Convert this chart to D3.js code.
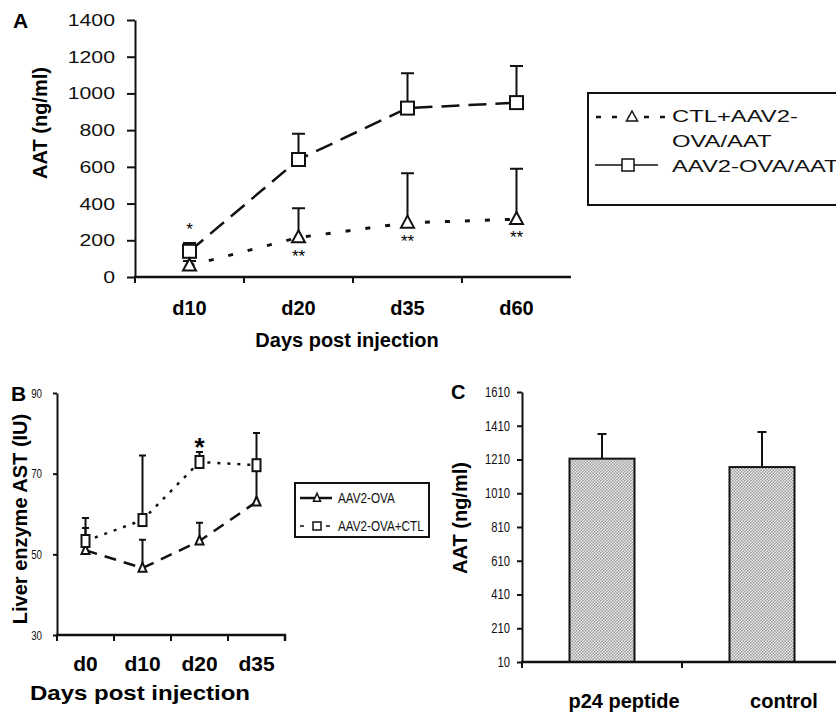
<!DOCTYPE html>
<html>
  <head>
    <script src="https://d3js.org/d3.v7.min.js"></script>
    <style>
      body { margin: 0; background-color: white; }
    </style>
  </head>
  <body>
    <svg id="canvas" width="836" height="713"></svg>
    <script>
      // panel A: AAT over time
      const daysA = ['d10', 'd20', 'd35', 'd60']
      const aavA = [140, 640, 920, 950]
      const aavAErr = [45, 140, 190, 200]
      const ctlA = [62, 215, 295, 315]
      const ctlAErr = [25, 160, 270, 275]
      const starsA = ['*', '**', '**', '**']
      const ticksA = [0, 200, 400, 600, 800, 1000, 1200, 1400]

      // panel B: liver enzyme AST
      const daysB = ['d0', 'd10', 'd20', 'd35']
      const ovaB = [51, 46.6, 53.3, 63]
      const ovaBErr = [5.5, 7, 4.5, 9]
      const ctlB = [53.3, 58.5, 72.9, 72.1]
      const ctlBErr = [5.7, 16, 2.5, 8]
      const starsB = ['', '', '*', '']
      const ticksB = [30, 50, 70, 90]

      // panel C: AAT by group
      const groupsC = ['p24 peptide', 'control']
      const aatC = [1215, 1165]
      const aatCErr = [146, 208]
      const ticksC = [10, 210, 410, 610, 810, 1010, 1210, 1410, 1610]

      const sans = '"Liberation Sans", Arial, sans-serif'

      const svg = d3.select('#canvas')

      // scanned figure has squashed/stretched text, fake it with textLength
      const stretch = (sel, f) => {
        sel.each(function () {
          const l = this.getComputedTextLength()
          d3.select(this).attr('textLength', l * f).attr('lengthAdjust', 'spacingAndGlyphs')
        })
      }

      const triPath = (w, h) => `M0,${-h * 0.6}L${w / 2},${h * 0.4}L${-w / 2},${h * 0.4}Z`

      const errBars = (g, cats, cx, y, vals, errs, cap) => {
        g.selectAll(null).data(vals).enter().append('path')
          .attr('d', (d, i) => {
            const x = cx(cats[i]), y0 = y(d), y1 = y(d + errs[i])
            return `M${x},${y0}V${y1}M${x - cap / 2},${y1}H${x + cap / 2}`
          })
          .attr('fill', 'none').attr('stroke', '#111').attr('stroke-width', 2)
      }

      // ---------- panel A ----------
      const xA = d3.scaleBand().domain(daysA).range([135, 571])
      const yA = d3.scaleLinear().domain([0, 1400]).range([277, 20])
      const cxA = d => xA(d) + xA.bandwidth() / 2
      const a = svg.append('g')

      const yAxisA = a.append('g').attr('transform', 'translate(135,0)')
        .call(d3.axisLeft(yA).tickValues(ticksA).tickFormat(d3.format('d'))
          .tickSize(8).tickPadding(12).tickSizeOuter(0))
      yAxisA.selectAll('path, line').attr('stroke', '#111').attr('stroke-width', 2)
      yAxisA.selectAll('text').attr('font-family', sans).attr('font-size', 17).attr('fill', '#111')
        .call(stretch, 1.25)

      a.append('line').attr('x1', 134).attr('x2', 571).attr('y1', yA(0)).attr('y2', yA(0))
        .attr('stroke', '#111').attr('stroke-width', 2.5)
      a.selectAll('line.bt').data(daysA).enter().append('line')
        .attr('x1', d => xA(d)).attr('x2', d => xA(d))
        .attr('y1', yA(0)).attr('y2', yA(0) + 6)
        .attr('stroke', '#111').attr('stroke-width', 2)
      a.selectAll('text.xl').data(daysA).enter().append('text')
        .attr('x', cxA).attr('y', 315).attr('text-anchor', 'middle')
        .attr('font-family', sans).attr('font-weight', 'bold').attr('font-size', 20)
        .text(d => d)
      a.append('text').attr('x', 347).attr('y', 347).attr('text-anchor', 'middle')
        .attr('font-family', sans).attr('font-weight', 'bold').attr('font-size', 20)
        .text('Days post injection')
      a.append('text').attr('transform', 'translate(47,123) rotate(-90)').attr('text-anchor', 'middle')
        .attr('font-family', sans).attr('font-weight', 'bold').attr('font-size', 20)
        .text('AAT (ng/ml)')
      a.append('text').attr('x', 13).attr('y', 28)
        .attr('font-family', sans).attr('font-weight', 'bold').attr('font-size', 21)
        .text('A')

      const lineA = vals => d3.line().x((d, i) => cxA(daysA[i])).y(d => yA(d))(vals)
      a.append('path').attr('d', lineA(aavA)).attr('fill', 'none')
        .attr('stroke', '#111').attr('stroke-width', 2.5).attr('stroke-dasharray', '18,9')
      a.append('path').attr('d', lineA(ctlA)).attr('fill', 'none')
        .attr('stroke', '#111').attr('stroke-width', 3).attr('stroke-dasharray', '5,15')

      errBars(a, daysA, cxA, yA, ctlA, ctlAErr, 13)
      errBars(a, daysA, cxA, yA, aavA, aavAErr, 13)

      a.selectAll('rect.sq').data(aavA).enter().append('rect')
        .attr('x', (d, i) => cxA(daysA[i]) - 6.5).attr('y', d => yA(d) - 6.5)
        .attr('width', 13).attr('height', 13)
        .attr('fill', 'white').attr('stroke', '#111').attr('stroke-width', 2)
      a.selectAll('path.tri').data(ctlA).enter().append('path')
        .attr('d', triPath(13, 12))
        .attr('transform', (d, i) => `translate(${cxA(daysA[i])},${yA(d)})`)
        .attr('fill', 'white').attr('stroke', '#111').attr('stroke-width', 2)

      a.selectAll('text.st').data(starsA).enter().append('text')
        .attr('x', (d, i) => cxA(daysA[i]))
        .attr('y', (d, i) => d === '*' ? yA(aavA[i] + aavAErr[i]) - 8 : yA(ctlA[i]) + 24)
        .attr('text-anchor', 'middle').attr('font-family', sans).attr('font-size', 17)
        .text(d => d)

      // legend A
      const lgA = a.append('g')
      lgA.append('rect').attr('x', 588).attr('y', 93).attr('width', 260).attr('height', 112)
        .attr('fill', 'white').attr('stroke', '#111').attr('stroke-width', 2)
      lgA.append('line').attr('x1', 596).attr('x2', 666).attr('y1', 117).attr('y2', 117)
        .attr('stroke', '#111').attr('stroke-width', 2.5).attr('stroke-dasharray', '5,11')
      lgA.append('path').attr('d', triPath(11, 10)).attr('transform', 'translate(632,117)')
        .attr('fill', 'white').attr('stroke', '#111').attr('stroke-width', 1.5)
      lgA.append('line').attr('x1', 595).attr('x2', 658).attr('y1', 165).attr('y2', 165)
        .attr('stroke', '#111').attr('stroke-width', 1.5)
      lgA.append('rect').attr('x', 622).attr('y', 159).attr('width', 12).attr('height', 12)
        .attr('fill', 'white').attr('stroke', '#111').attr('stroke-width', 1.5)
      lgA.selectAll('text').data([['CTL+AAV2-', 122], ['OVA/AAT', 147], ['AAV2-OVA/AAT', 172]])
        .enter().append('text')
        .attr('x', 672).attr('y', d => d[1])
        .attr('font-family', sans).attr('font-size', 17).attr('fill', '#111')
        .text(d => d[0])
        .call(stretch, 1.4)

      // ---------- panel B ----------
      const xB = d3.scaleBand().domain(daysB).range([57, 285])
      const yB = d3.scaleLinear().domain([30, 90]).range([635, 393])
      const cxB = d => xB(d) + xB.bandwidth() / 2
      const b = svg.append('g')

      const yAxisB = b.append('g').attr('transform', 'translate(57,0)')
        .call(d3.axisLeft(yB).tickValues(ticksB).tickSize(4).tickPadding(11).tickSizeOuter(0))
      yAxisB.selectAll('path, line').attr('stroke', '#111').attr('stroke-width', 2)
      yAxisB.selectAll('text').attr('font-family', sans).attr('font-size', 13).attr('fill', '#111')
        .call(stretch, 0.75)

      b.append('path').attr('d', `M56,${yB(30)}H285V${yB(30) + 6}`).attr('fill', 'none')
        .attr('stroke', '#111').attr('stroke-width', 2.5)
      b.selectAll('line.bt').data(daysB).enter().append('line')
        .attr('x1', d => xB(d)).attr('x2', d => xB(d))
        .attr('y1', yB(30)).attr('y2', yB(30) + 6)
        .attr('stroke', '#111').attr('stroke-width', 2)
      b.selectAll('text.xl').data(daysB).enter().append('text')
        .attr('x', cxB).attr('y', 671).attr('text-anchor', 'middle')
        .attr('font-family', sans).attr('font-weight', 'bold').attr('font-size', 21)
        .text(d => d)
      b.append('text').attr('x', 140).attr('y', 700).attr('text-anchor', 'middle')
        .attr('font-family', sans).attr('font-weight', 'bold').attr('font-size', 20)
        .text('Days post injection')
        .call(stretch, 1.2)
      b.append('text').attr('transform', 'translate(27,519) rotate(-90)').attr('text-anchor', 'middle')
        .attr('font-family', sans).attr('font-weight', 'bold').attr('font-size', 20)
        .text('Liver enzyme AST (IU)')
      b.append('text').attr('x', 11).attr('y', 401)
        .attr('font-family', sans).attr('font-weight', 'bold').attr('font-size', 21)
        .text('B')

      const lineB = vals => d3.line().x((d, i) => cxB(daysB[i])).y(d => yB(d))(vals)
      b.append('path').attr('d', lineB(ovaB)).attr('fill', 'none')
        .attr('stroke', '#111').attr('stroke-width', 2.5).attr('stroke-dasharray', '12,8')
      b.append('path').attr('d', lineB(ctlB)).attr('fill', 'none')
        .attr('stroke', '#111').attr('stroke-width', 2.5).attr('stroke-dasharray', '3,7')

      errBars(b, daysB, cxB, yB, ovaB, ovaBErr, 7)
      errBars(b, daysB, cxB, yB, ctlB, ctlBErr, 7)

      b.selectAll('path.tri').data(ovaB).enter().append('path')
        .attr('d', triPath(8, 9))
        .attr('transform', (d, i) => `translate(${cxB(daysB[i])},${yB(d)})`)
        .attr('fill', 'white').attr('stroke', '#111').attr('stroke-width', 2)
      b.selectAll('rect.sq').data(ctlB).enter().append('rect')
        .attr('x', (d, i) => cxB(daysB[i]) - 4).attr('y', d => yB(d) - 6)
        .attr('width', 8).attr('height', 12)
        .attr('fill', 'white').attr('stroke', '#111').attr('stroke-width', 2)
      b.selectAll('text.st').data(starsB).enter().append('text')
        .attr('x', (d, i) => cxB(daysB[i]))
        .attr('y', (d, i) => yB(ctlB[i] + ctlBErr[i]) + 4)
        .attr('text-anchor', 'middle').attr('font-family', sans).attr('font-weight', 'bold')
        .attr('font-size', 26)
        .text(d => d)

      // legend B
      const lgB = b.append('g')
      lgB.append('rect').attr('x', 295).attr('y', 483).attr('width', 134).attr('height', 54)
        .attr('fill', 'white').attr('stroke', '#111').attr('stroke-width', 2)
      lgB.append('line').attr('x1', 300).attr('x2', 332).attr('y1', 498).attr('y2', 498)
        .attr('stroke', '#111').attr('stroke-width', 2.5)
      lgB.append('path').attr('d', triPath(7, 8)).attr('transform', 'translate(317,498)')
        .attr('fill', 'white').attr('stroke', '#111').attr('stroke-width', 1.5)
      lgB.append('line').attr('x1', 300).attr('x2', 334).attr('y1', 526).attr('y2', 526)
        .attr('stroke', '#111').attr('stroke-width', 1.5).attr('stroke-dasharray', '4,9')
      lgB.append('rect').attr('x', 313).attr('y', 522).attr('width', 8).attr('height', 8)
        .attr('fill', 'white').attr('stroke', '#111').attr('stroke-width', 1.5)
      lgB.selectAll('text').data([['AAV2-OVA', 503], ['AAV2-OVA+CTL', 531]])
        .enter().append('text')
        .attr('x', 338).attr('y', d => d[1])
        .attr('font-family', sans).attr('font-size', 15).attr('fill', '#111')
        .text(d => d[0])
        .call(stretch, 0.78)

      // ---------- panel C ----------
      const xC = d3.scaleBand().domain(groupsC).range([522, 842])
      const yC = d3.scaleLinear().domain([10, 1610]).range([662, 392])
      const cxC = d => xC(d) + xC.bandwidth() / 2
      const c = svg.append('g')

      const pat = svg.append('defs').append('pattern').attr('id', 'dots')
        .attr('width', 3).attr('height', 3).attr('patternUnits', 'userSpaceOnUse')
      pat.append('rect').attr('width', 3).attr('height', 3).attr('fill', '#eeeeee')
      pat.append('rect').attr('width', 1.5).attr('height', 1.5).attr('fill', '#9a9a9a')
      pat.append('rect').attr('x', 1.5).attr('y', 1.5).attr('width', 1.5).attr('height', 1.5).attr('fill', '#9a9a9a')

      const yAxisC = c.append('g').attr('transform', 'translate(522,0)')
        .call(d3.axisLeft(yC).tickValues(ticksC).tickFormat(d3.format('d'))
          .tickSize(5).tickPadding(7).tickSizeOuter(0))
      yAxisC.selectAll('path, line').attr('stroke', '#111').attr('stroke-width', 2)
      yAxisC.selectAll('text').attr('font-family', sans).attr('font-size', 14).attr('fill', '#111')
        .call(stretch, 0.8)

      const bw = 65
      errBars(c, groupsC, cxC, yC, aatC, aatCErr, 9)
      c.selectAll('rect.bar').data(aatC).enter().append('rect')
        .attr('x', (d, i) => cxC(groupsC[i]) - bw / 2).attr('y', d => yC(d))
        .attr('width', bw).attr('height', d => yC(10) - yC(d))
        .attr('fill', 'url(#dots)').attr('stroke', '#111').attr('stroke-width', 2)

      c.append('line').attr('x1', 521).attr('x2', 836).attr('y1', yC(10)).attr('y2', yC(10))
        .attr('stroke', '#111').attr('stroke-width', 2.5)
      c.selectAll('line.bt').data(groupsC).enter().append('line')
        .attr('x1', d => xC(d)).attr('x2', d => xC(d))
        .attr('y1', yC(10)).attr('y2', yC(10) + 6)
        .attr('stroke', '#111').attr('stroke-width', 2)
      c.selectAll('text.xl').data(groupsC).enter().append('text')
        .attr('x', d => cxC(d) + 22).attr('y', 708).attr('text-anchor', 'middle')
        .attr('font-family', sans).attr('font-weight', 'bold').attr('font-size', 20)
        .text(d => d)
      c.append('text').attr('transform', 'translate(467,518) rotate(-90)').attr('text-anchor', 'middle')
        .attr('font-family', sans).attr('font-weight', 'bold').attr('font-size', 20)
        .text('AAT (ng/ml)')
      c.append('text').attr('x', 451).attr('y', 399)
        .attr('font-family', sans).attr('font-weight', 'bold').attr('font-size', 20)
        .text('C')
    </script>
  </body>
</html>
